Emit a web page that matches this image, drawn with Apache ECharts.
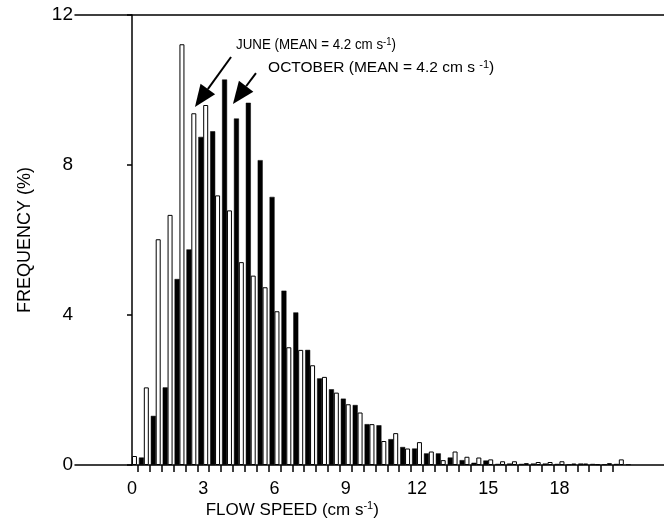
<!DOCTYPE html>
<html>
<head>
<meta charset="utf-8">
<script src="https://cdn.jsdelivr.net/npm/echarts@6/dist/echarts.min.js"></script>
<style>
    html, body { margin: 0; padding: 0; background: #fff; }
    #chart { width: 664px; height: 523px; }
</style>
</head>
<body>
<div id="chart"></div>
<script>
    // bin centres (cm s-1), 0.5 wide bins
    var binCentres = [0.25, 0.75, 1.25, 1.75, 2.25, 2.75, 3.25, 3.75, 4.25, 4.75,
        5.25, 5.75, 6.25, 6.75, 7.25, 7.75, 8.25, 8.75, 9.25, 9.75,
        10.25, 10.75, 11.25, 11.75, 12.25, 12.75, 13.25, 13.75, 14.25, 14.75,
        15.25, 15.75, 16.25, 16.75, 17.25, 17.75, 18.25, 18.75, 19.25, 19.75,
        20.25, 20.75];

    // frequency (%) - June (open bars)
    var juneFreq = [0.24, 2.07, 6.02, 6.67, 11.22, 9.38, 9.6, 7.19, 6.79, 5.41,
        5.05, 4.74, 4.10, 3.14, 3.07, 2.66, 2.35, 1.93, 1.62, 1.40,
        1.09, 0.64, 0.85, 0.44, 0.61, 0.36, 0.13, 0.36, 0.22, 0.20,
        0.15, 0.10, 0.10, 0.05, 0.08, 0.08, 0.10, 0.04, 0.04, 0.02,
        0.05, 0.15];

    // frequency (%) - October (filled bars)
    var octoberFreq = [0.20, 1.31, 2.07, 4.96, 5.75, 8.75, 8.9, 10.28, 9.24, 9.66,
        8.13, 7.15, 4.65, 4.07, 3.07, 2.31, 2.02, 1.77, 1.60, 1.09,
        1.06, 0.69, 0.48, 0.44, 0.31, 0.31, 0.20, 0.13, 0.06, 0.12,
        0.03, 0.04, 0.03, 0.04, 0.04, 0.03, 0.02, 0.04, 0.03, 0.02,
        0.03, 0.02];

    var xTickLabels = [0, 3, 6, 9, 12, 15, 18];
    var yTickLabels = [0, 4, 8, 12];

    var FONT = 'Liberation Sans';

    function pairs(xs, ys) {
        var out = [];
        for (var i = 0; i < ys.length; i++) {
            out.push([xs[i], ys[i]]);
        }
        return out;
    }

    var myChart = echarts.init(document.getElementById('chart'));

    var supRich = {
        sup: { fontSize: 11, fontFamily: FONT, color: '#000', verticalAlign: 'top', lineHeight: 12 }
    };

    var option = {
        animation: false,
        backgroundColor: '#fff',
        grid: { left: 75, right: 0, top: 15, bottom: 58 },
        xAxis: [{
            type: 'value',
            min: -2.4,
            max: 22.4,
            axisLine: { show: true, onZero: false, lineStyle: { color: '#000', width: 1.5 } },
            axisTick: {
                show: true, inside: false, length: 7,
                customValues: binCentres.slice(0, 41),
                lineStyle: { color: '#000', width: 1.5 }
            },
            axisLabel: {
                customValues: xTickLabels,
                fontFamily: FONT, fontSize: 18, color: '#000', margin: 15
            },
            splitLine: { show: false }
        }, {
            // top frame line
            type: 'value',
            position: 'top',
            min: -2.4,
            max: 22.4,
            axisLine: { show: true, onZero: false, lineStyle: { color: '#000', width: 1.5 } },
            axisTick: { show: false },
            axisLabel: { show: false },
            splitLine: { show: false }
        }],
        yAxis: {
            type: 'value',
            min: 0,
            max: 12,
            interval: 4,
            name: 'FREQUENCY (%)',
            nameLocation: 'middle',
            nameGap: 41,
            nameTextStyle: { fontFamily: FONT, fontSize: 18, color: '#000' },
            axisLine: { show: true, lineStyle: { color: '#000', width: 1.5 } },
            axisTick: { show: true, length: 5, lineStyle: { color: '#000', width: 1.5 } },
            axisLabel: {
                customValues: yTickLabels,
                fontFamily: FONT, fontSize: 19, color: '#000', margin: 2
            },
            splitLine: { show: false }
        },
        series: [{
            name: 'June',
            type: 'bar',
            barWidth: 5,
            barGap: '40%',
            data: pairs(binCentres, juneFreq),
            itemStyle: { color: '#fff', borderColor: '#000', borderWidth: 1 }
        }, {
            name: 'October',
            type: 'bar',
            barWidth: 5,
            barGap: '40%',
            data: pairs(binCentres, octoberFreq),
            itemStyle: { color: '#000', borderColor: '#000', borderWidth: 0.5 }
        }]
    };

    myChart.setOption(option);

    // annotations, placed in data space
    function px(x, y) {
        return myChart.convertToPixel({ xAxisIndex: 0, yAxisIndex: 0 }, [x, y]);
    }

    function arrow(tail, tip) {
        var a = px(tail[0], tail[1]);
        var b = px(tip[0], tip[1]);
        var dx = b[0] - a[0], dy = b[1] - a[1];
        var len = Math.sqrt(dx * dx + dy * dy);
        var ux = dx / len, uy = dy / len;
        var headLen = 22, headW = 9;
        var bx = b[0] - ux * headLen, by = b[1] - uy * headLen;
        return [{
            type: 'line',
            shape: { x1: a[0], y1: a[1], x2: bx, y2: by },
            style: { stroke: '#000', lineWidth: 2 }
        }, {
            type: 'polygon',
            shape: { points: [[b[0], b[1]], [bx - uy * headW, by + ux * headW], [bx + uy * headW, by - ux * headW]] },
            style: { fill: '#000' }
        }];
    }

    var juneLabelPos = px(4.38, 11.2);
    var octLabelPos = px(5.73, 10.6);
    var xNamePos = px(6.75, -1.2);

    var graphics = [].concat(
        arrow([4.17, 10.88], [2.65, 9.55]),
        arrow([5.22, 10.45], [4.25, 9.63]),
        [{
            type: 'text',
            x: juneLabelPos[0], y: juneLabelPos[1],
            scaleX: 0.86,
            style: {
                text: 'JUNE (MEAN = 4.2 cm s{sup|-1})',
                fontFamily: FONT, fontSize: 15.5, fill: '#000',
                verticalAlign: 'middle', lineHeight: 17,
                rich: supRich
            }
        }, {
            type: 'text',
            x: octLabelPos[0], y: octLabelPos[1],
            style: {
                text: 'OCTOBER (MEAN = 4.2 cm s {sup|-1})',
                fontFamily: FONT, fontSize: 15.5, fill: '#000',
                verticalAlign: 'middle', lineHeight: 17,
                rich: supRich
            }
        }, {
            type: 'text',
            x: xNamePos[0], y: xNamePos[1],
            style: {
                text: 'FLOW SPEED (cm s{sup|-1})',
                fontFamily: FONT, fontSize: 17, fill: '#000',
                align: 'center', verticalAlign: 'middle', lineHeight: 19,
                rich: supRich
            }
        }]
    );

    myChart.setOption({ graphic: graphics });
</script>
</body>
</html>
